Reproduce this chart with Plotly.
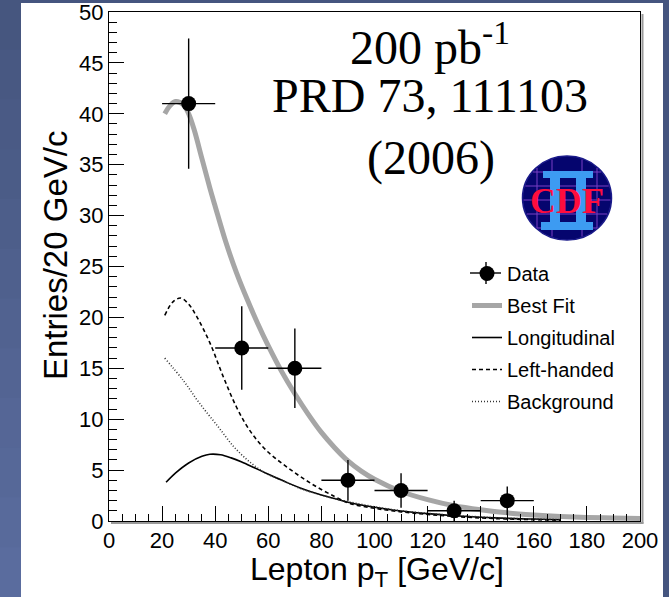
import plotly.graph_objects as go

# ---- measured lepton pT spectrum (entries per 20 GeV/c bin) ----
data_pt = [30, 50, 70, 90, 110, 130, 150]
data_n = [41, 17, 15, 4, 3, 1, 2]
data_err = [6.4, 4.1, 3.9, 2.0, 1.7, 1.0, 1.4]
bin_half = [10, 10, 10, 10, 10, 10, 10]

# ---- fitted templates ----
fit_pt = [21, 23, 25, 28, 30, 32, 35, 38, 40, 44, 48, 52, 56, 60, 65, 70, 75, 80, 85, 90, 95,
          100, 110, 120, 130, 140, 150, 160, 170, 180, 190, 200]
fit_n = [40.0, 40.8, 41.2, 40.9, 40.0, 38.5, 35.6, 32.7, 30.9, 27.4, 24.4, 21.8, 19.4, 17.2,
         14.7, 12.5, 10.5, 8.7, 7.2, 5.9, 4.9, 4.1, 2.9, 2.1, 1.5, 1.1, 0.8, 0.6, 0.45, 0.35,
         0.3, 0.25]

long_pt = [21.5, 25, 30, 35, 38, 42, 46, 50, 55, 60, 66, 72, 80, 85, 90, 100, 110, 120, 130,
           140, 150, 160, 170]
long_n = [3.8, 4.7, 5.7, 6.35, 6.55, 6.5, 6.2, 5.8, 5.2, 4.6, 3.9, 3.25, 2.55, 2.2, 1.85, 1.35,
          0.98, 0.72, 0.52, 0.37, 0.26, 0.19, 0.13]

left_pt = [21, 24, 27, 30, 33, 38, 43, 48, 53, 59, 67, 76, 85, 91, 100, 110, 120, 130, 140,
           150, 160, 170]
left_n = [20.2, 21.5, 21.9, 21.3, 20.1, 17.5, 14.2, 11.2, 8.9, 7.0, 5.3, 3.7, 2.4, 1.7, 1.25,
          0.9, 0.65, 0.45, 0.3, 0.2, 0.13, 0.08]

bkg_pt = [21, 28, 34, 41, 47, 53, 59, 66, 72, 80, 85, 90, 100, 110, 120, 130, 140, 150, 160, 170]
bkg_n = [16.0, 13.8, 11.6, 9.3, 7.3, 5.8, 4.7, 3.9, 3.2, 2.55, 2.2, 1.9, 1.4, 1.0, 0.75, 0.55,
         0.4, 0.28, 0.2, 0.14]

x_ticks = [0, 20, 40, 60, 80, 100, 120, 140, 160, 180, 200]
y_ticks = [0, 5, 10, 15, 20, 25, 30, 35, 40, 45, 50]

W, H = 669, 597
L, R, T, B = 109, 29, 12, 76
PW, PH = W - L - R, H - T - B


def px(x):
    """pixel column -> paper x"""
    return (x - L) / PW


def py(y):
    """pixel row -> paper y"""
    return (H - B - y) / PH


def mix(c0, c1, t):
    a = [int(c0[i:i + 2], 16) for i in (1, 3, 5)]
    b = [int(c1[i:i + 2], 16) for i in (1, 3, 5)]
    return "#" + "".join(f"{round(u + (v - u) * t):02x}" for u, v in zip(a, b))


SANS = "Liberation Sans, Arial, sans-serif"
SERIF = "Liberation Serif, Times New Roman, serif"

fig = go.Figure()

fig.add_trace(go.Scatter(
    x=fit_pt, y=fit_n, mode="lines", name="Best Fit", line_shape="spline",
    line=dict(color="#a6a6a6", width=5), legendgroup="b", legendrank=1))
fig.add_trace(go.Scatter(
    x=long_pt, y=long_n, mode="lines", name="Longitudinal", line_shape="spline",
    line=dict(color="black", width=1.6), legendgroup="c", legendrank=2))
fig.add_trace(go.Scatter(
    x=left_pt, y=left_n, mode="lines", name="Left-handed", line_shape="spline",
    line=dict(color="black", width=1.6, dash="4px,3px"), legendgroup="d", legendrank=3))
fig.add_trace(go.Scatter(
    x=bkg_pt, y=bkg_n, mode="lines", name="Background", line_shape="spline",
    line=dict(color="#333333", width=1.6, dash="1px,2px"), legendgroup="e", legendrank=4))
fig.add_trace(go.Scatter(
    x=data_pt, y=data_n, mode="markers", name="Data", legendgroup="a", legendrank=0,
    marker=dict(color="black", size=15, symbol="circle"),
    error_x=dict(type="data", array=bin_half, width=0, thickness=1.4, color="black"),
    error_y=dict(type="data", array=data_err, width=0, thickness=1.4, color="black")))

shapes = []
# slide background: soft vertical gradient on the left margin
n_band = 12
for i in range(n_band):
    y0, y1 = H * i / n_band, H * (i + 1) / n_band + 1
    shapes.append(dict(type="rect", xref="paper", yref="paper", layer="below",
                       x0=px(-2), x1=px(22), y0=py(y1), y1=py(y0),
                       fillcolor=mix("#46567f", "#5a6c9e", i / (n_band - 1)),
                       line=dict(width=0)))
# white slide panel
shapes.append(dict(type="rect", xref="paper", yref="paper", layer="below",
                   x0=px(21), x1=px(663), y0=py(H + 5), y1=py(3),
                   fillcolor="white", line=dict(width=0)))
# frame shadow
shapes.append(dict(type="line", xref="paper", yref="paper",
                   x0=px(642.5), x1=px(642.5), y0=py(523.5), y1=py(14),
                   line=dict(color="#9a9a9a", width=2)))
shapes.append(dict(type="line", xref="paper", yref="paper",
                   x0=px(111), x1=px(643.5), y0=py(523), y1=py(523),
                   line=dict(color="#9a9a9a", width=2)))

# error-bar cross on the "Data" legend glyph
lg_cx, lg_cy = 486, 273
shapes.append(dict(type="line", xref="paper", yref="paper",
                   x0=px(lg_cx - 16), x1=px(lg_cx + 15), y0=py(lg_cy), y1=py(lg_cy),
                   line=dict(color="black", width=1.4)))
shapes.append(dict(type="line", xref="paper", yref="paper",
                   x0=px(lg_cx), x1=px(lg_cx), y0=py(lg_cy + 11), y1=py(lg_cy - 11),
                   line=dict(color="black", width=1.4)))

# CDF II logo
cx, cy, rx, ry = 567, 198, 44.5, 42
shapes.append(dict(type="circle", xref="paper", yref="paper",
                   x0=px(cx - rx), x1=px(cx + rx), y0=py(cy + ry), y1=py(cy - ry),
                   fillcolor="#05056e", line=dict(color="#1a1a8a", width=1.5)))
grid_col = "#7b3fc4"
for gy in [172, 186, 200, 214, 228]:
    dy = (gy - cy) / ry
    half = rx * (1 - dy * dy) ** 0.5 - 1
    shapes.append(dict(type="line", xref="paper", yref="paper",
                       x0=px(cx - half), x1=px(cx + half), y0=py(gy), y1=py(gy),
                       line=dict(color=grid_col, width=1)))
for gx in [537, 552, 582, 597]:
    dx = (gx - cx) / rx
    half = ry * (1 - dx * dx) ** 0.5 - 1
    shapes.append(dict(type="line", xref="paper", yref="paper",
                       x0=px(gx), x1=px(gx), y0=py(cy - half), y1=py(cy + half),
                       line=dict(color=grid_col, width=1)))
ii_col = "#3d9bf2"
for (x0, x1, y0, y1) in [(543, 593, 171, 178), (541, 593, 222, 230),
                         (550, 560, 171, 230), (576, 586, 171, 230)]:
    shapes.append(dict(type="rect", xref="paper", yref="paper",
                       x0=px(x0), x1=px(x1), y0=py(y1), y1=py(y0),
                       fillcolor=ii_col, line=dict(width=0)))

annotations = [
    dict(text="200 pb<sup>-1</sup>", x=px(430), y=py(44), xref="paper", yref="paper",
         xanchor="center", yanchor="middle", showarrow=False,
         font=dict(family=SERIF, size=48, color="black")),
    dict(text="PRD 73, 111103", x=px(430), y=py(95), xref="paper", yref="paper",
         xanchor="center", yanchor="middle", showarrow=False,
         font=dict(family=SERIF, size=48, color="black")),
    dict(text="(2006)", x=px(431), y=py(158), xref="paper", yref="paper",
         xanchor="center", yanchor="middle", showarrow=False,
         font=dict(family=SERIF, size=48, color="black")),
    dict(text="<b>CDF</b>", x=px(567), y=py(201), xref="paper", yref="paper",
         xanchor="center", yanchor="middle", showarrow=False,
         font=dict(family=SERIF, size=36, color="#ff0d3d")),
    dict(text="Entries/20 GeV/c", x=px(55), y=py(256), xref="paper", yref="paper",
         xanchor="center", yanchor="middle", textangle=-90, showarrow=False,
         font=dict(family=SANS, size=33, color="black")),
    dict(text="Lepton p<sub>T</sub> [GeV/c]", x=px(377), y=py(571), xref="paper",
         yref="paper", xanchor="center", yanchor="middle", showarrow=False,
         font=dict(family=SANS, size=32, color="black")),
]

axis_common = dict(
    showgrid=False, zeroline=False, showline=True, linecolor="black", linewidth=1,
    mirror=True, ticks="inside", ticklen=15, tickwidth=1, tickcolor="black",
    ticklabeloverflow="allow", automargin=False,
    tickfont=dict(family=SANS, size=22, color="black"),
)

fig.update_layout(
    width=W, height=H,
    margin=dict(l=L, r=R, t=T, b=B, pad=0, autoexpand=False),
    paper_bgcolor="#45557f",
    plot_bgcolor="white",
    xaxis=dict(range=[0, 200], tickvals=x_ticks, ticktext=[str(v) for v in x_ticks],
               minor=dict(ticks="inside", dtick=5, ticklen=7, tickcolor="black", tickwidth=1),
               **axis_common),
    yaxis=dict(range=[0, 50], tickvals=y_ticks, ticktext=[str(v) for v in y_ticks],
               minor=dict(ticks="inside", dtick=1, ticklen=8, tickcolor="black", tickwidth=1),
               **axis_common),
    shapes=shapes,
    annotations=annotations,
    showlegend=True,
    legend=dict(x=px(467), y=py(254), xanchor="left", yanchor="top",
                bgcolor="rgba(0,0,0,0)", borderwidth=0, itemwidth=30,
                traceorder="grouped", tracegroupgap=3,
                font=dict(family=SANS, size=20, color="black")),
)

fig.write_html("out.html")
